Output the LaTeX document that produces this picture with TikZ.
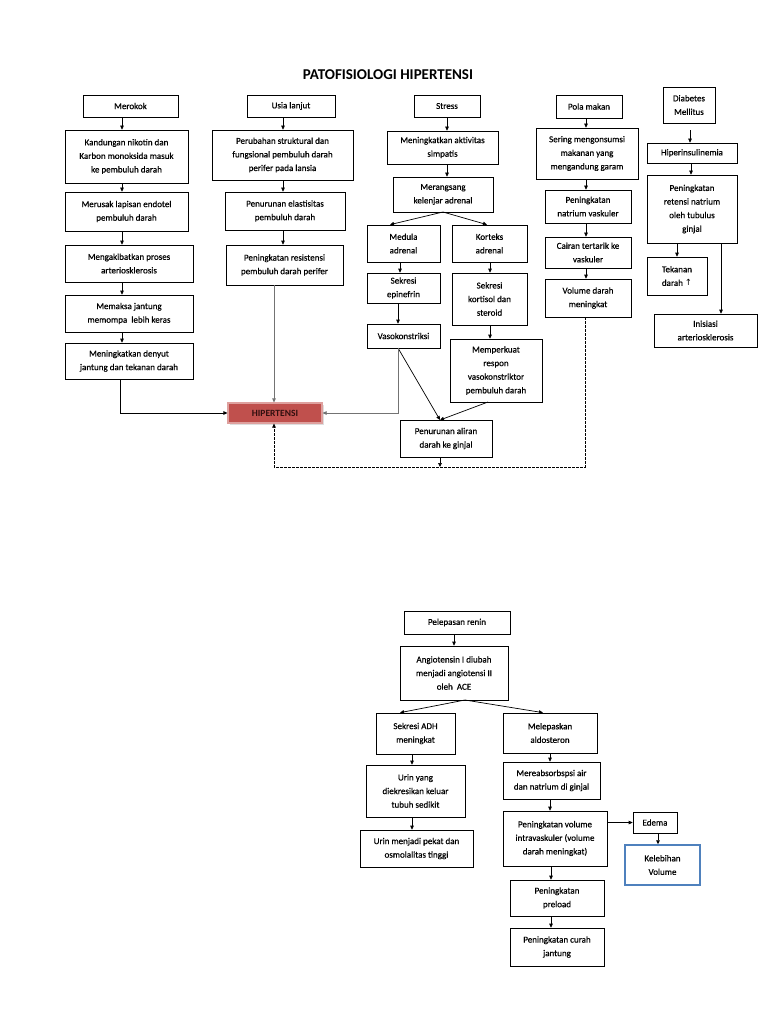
\documentclass[tikz,border=0pt]{standalone}
\usepackage{fontspec}
\setmainfont{Carlito}
\newfontfamily\bodyfont{Carlito}[FakeBold=0.5]
\newfontfamily\symfont{DejaVu Sans}
\usetikzlibrary{arrows.meta,shadows}
\newcommand\mybox[6]{\node[box,minimum width={#4pt-#2pt},minimum height={#5pt-#3pt}] (#1) at ({(#2+#4)/2},{(#3+#5)/2}) {#6};}
\begin{document}
\begin{tikzpicture}[x=1pt,y=-1pt,
  box/.style={draw=black,line width=0.7pt,fill=white,align=center,inner sep=1pt,
    font=\bodyfont\fontsize{9}{13.6}\selectfont},
  arr/.style={-{Triangle[length=4pt,width=3.6pt]},line width=0.7pt},
  arrg/.style={arr,draw=black!55},
  dsh/.style={arr,dash pattern=on 2.2pt off 1.8pt,line width=0.6pt},
  hip/.style={fill={rgb,255:red,192;green,80;blue,77},draw={rgb,255:red,222;green,160;blue,158},
    line width=1.2pt,drop shadow={shadow xshift=1.5pt,shadow yshift=-1.5pt,fill=black!25},
    text={rgb,255:red,50;green,15;blue,15},font=\bfseries\fontsize{9.5}{11}\selectfont},
  bluebox/.style={box,draw={rgb,255:red,79;green,129;blue,189},line width=1.5pt}
]
\useasboundingbox[fill=white] (0,0) rectangle (768,1024);

\node[font=\bfseries\fontsize{15}{18}\selectfont] (title) at (388,75) {PATOFISIOLOGI HIPERTENSI};

% column 1
\mybox{merokok}{83}{95}{178}{117}{Merokok}
\mybox{kandungan}{65}{130}{188}{183}{Kandungan nikotin dan\\Karbon monoksida masuk\\ke pembuluh darah}
\mybox{merusak}{65}{192}{188}{231}{Merusak lapisan endotel\\pembuluh darah}
\mybox{mengakibatkan}{65}{245}{193}{282}{Mengakibatkan proses\\arteriosklerosis}
\mybox{memaksa}{65}{295}{193}{332}{Memaksa jantung\\memompa\ \ lebih keras}
\mybox{meningkatkan}{65}{343}{193}{379}{Meningkatkan denyut\\jantung dan tekanan darah}

% column 2
\mybox{usia}{247}{95}{335}{117}{Usia lanjut}
\mybox{perubahan}{212}{130}{353}{180}{Perubahan struktural dan\\fungsional pembuluh darah\\perifer pada lansia}
\mybox{penurunanE}{225}{192}{345}{230}{Penurunan elastisitas\\pembuluh darah}
\mybox{peningkatanR}{226}{245}{343}{285}{Peningkatan resistensi\\pembuluh darah perifer}

\node[hip,minimum width=94pt,minimum height=20pt] (hipertensi) at (275,413) {HIPERTENSI};

% column 3
\mybox{stress}{414}{95}{480}{117}{Stress}
\mybox{simpatis}{387}{131}{498}{164}{Meningkatkan aktivitas\\simpatis}
\mybox{merangsang}{393}{177}{493}{212}{Merangsang\\kelenjar adrenal}
\mybox{medula}{367}{225}{440}{262}{Medula\\adrenal}
\mybox{korteks}{452}{225}{527}{262}{Korteks\\adrenal}
\mybox{epinefrin}{367}{273}{440}{303}{Sekresi\\epinefrin}
\mybox{kortisol}{452}{273}{527}{325}{Sekresi\\kortisol dan\\steroid}
\mybox{vaso}{367}{324}{440}{348}{Vasokonstriksi}
\mybox{memperkuat}{450}{339}{542}{402}{Memperkuat\\respon\\vasokonstriktor\\pembuluh darah}
\mybox{penurunanA}{400}{420}{492}{457}{Penurunan aliran\\darah ke ginjal}

% column 4
\mybox{pola}{556}{95}{622}{118}{Pola makan}
\mybox{sering}{536}{128}{638}{179}{Sering mengonsumsi\\makanan yang\\mengandung garam}
\mybox{natrium}{545}{190}{631}{223}{Peningkatan\\natrium vaskuler}
\mybox{cairan}{545}{237}{631}{268}{Cairan tertarik ke\\vaskuler}
\mybox{volume}{545}{279}{631}{317}{Volume darah\\meningkat}

% column 5
\mybox{diabetes}{663}{87}{715}{123}{Diabetes\\Mellitus}
\mybox{hiper}{647}{143}{737}{163}{Hiperinsulinemia}
\mybox{retensi}{647}{175}{737}{243}{Peningkatan\\retensi natrium\\oleh tubulus\\ginjal}
\mybox{tekanan}{647}{257}{707}{295}{Tekanan\\darah {\symfont\fontsize{8.5}{9}\selectfont ↑}}
\mybox{inisiasi}{654}{314}{757}{347}{Inisiasi\\arteriosklerosis}

% bottom diagram
\mybox{renin}{404}{611}{510}{634}{Pelepasan renin}
\mybox{angio}{400}{646}{508}{700}{Angiotensin I diubah\\menjadi angiotensi II\\oleh\ \ ACE}
\mybox{adh}{376}{713}{455}{754}{Sekresi ADH\\meningkat}
\mybox{aldo}{503}{713}{597}{753}{Melepaskan\\aldosteron}
\mybox{urin}{366}{765}{465}{817}{Urin yang\\diekresikan keluar\\tubuh sedikit}
\mybox{pekat}{360}{830}{473}{867}{Urin menjadi pekat dan\\osmolalitas tinggi}
\mybox{reabs}{503}{762}{600}{799}{Mereabsorbspsi air\\dan natrium di ginjal}
\mybox{volint}{503}{811}{607}{866}{Peningkatan volume\\intravaskuler (volume\\darah meningkat)}
\mybox{edema}{633}{812}{677}{833}{Edema}
\node[bluebox,minimum width=75pt,minimum height=40pt] (kelebihan) at (662.5,865) {Kelebihan\\Volume};
\mybox{preload}{510}{880}{604}{916}{Peningkatan\\preload}
\mybox{curah}{510}{928}{604}{966}{Peningkatan curah\\jantung}

% helper coordinates for connector columns
\coordinate (c1) at (122,0);
\coordinate (c1b) at (120,0);
\coordinate (c2) at (283,0);
\coordinate (c2h) at (274,0);
\coordinate (c3) at (447,0);
\coordinate (c3m) at (400,0);
\coordinate (c3k) at (490,0);
\coordinate (c3v) at (398,0);
\coordinate (c4) at (586,0);
\coordinate (c5) at (691,0);
\coordinate (c5t) at (677,0);
\coordinate (c5i) at (721,0);
\coordinate (dR) at (585,467);
\coordinate (dL) at (274,467);
\coordinate (pA) at (440,467);
\coordinate (b1) at (412,0);
\coordinate (b2) at (550,0);
\coordinate (b3) at (658,0);
\coordinate (vn) at (398,348);
\coordinate (pt) at (440,420);
\coordinate (mb) at (488,402);
\coordinate (mt) at (443,212);
\coordinate (at) at (465,700);

% column 1 connectors
\draw[arr] (merokok.south -| c1) -- (kandungan.north -| c1);
\draw[arr] (kandungan.south -| c1) -- (merusak.north -| c1);
\draw[arr] (merusak.south -| c1) -- (mengakibatkan.north -| c1);
\draw[arr] (mengakibatkan.south -| c1) -- (memaksa.north -| c1);
\draw[arr] (memaksa.south -| c1) -- (meningkatkan.north -| c1);
\draw[arr] (meningkatkan.south -| c1b) |- (hipertensi.west);

% column 2 connectors
\draw[arr] (usia.south -| c2) -- (perubahan.north -| c2);
\draw[arr] (perubahan.south -| c2) -- (penurunanE.north -| c2);
\draw[arr] (penurunanE.south -| c2) -- (peningkatanR.north -| c2);
\draw[arrg] (peningkatanR.south -| c2h) -- (hipertensi.north -| c2h);

% column 3 connectors
\draw[arr] (stress.south -| c3) -- (simpatis.north -| c3);
\draw[arr] (simpatis.south -| c3) -- (merangsang.north -| c3);
\draw[arr] (mt) -- (medula.north -| 390,0);
\draw[arr] (mt) -- (korteks.north -| 487,0);
\draw[arr] (medula.south -| c3m) -- (epinefrin.north -| c3m);
\draw[arr] (korteks.south -| c3k) -- (kortisol.north -| c3k);
\draw[arr] (epinefrin.south -| c3v) -- (vaso.north -| c3v);
\draw[arr] (kortisol.south -| c3k) -- (memperkuat.north -| c3k);
\draw[arr] (vn) -- (pt);
\draw[arr] (mb) -- (pt);
\draw[arrg] (vaso.south -| c3v) |- (hipertensi.east);
\draw[arr] (penurunanA.south -| pA) -- (pA);

% column 4 connectors
\draw[arr] (pola.south -| c4) -- (sering.north -| c4);
\draw[arr] (sering.south -| c4) -- (natrium.north -| c4);
\draw[arr] (natrium.south -| c4) -- (cairan.north -| c4);
\draw[arr] (cairan.south -| c4) -- (volume.north -| c4);
\draw[dsh] (volume.south -| dR) -- (dR) -- (dL) -- (hipertensi.south -| dL);

% column 5 connectors
\draw[arr] (diabetes.south -| 690,0) ++(0,7) -- (hiper.north -| 690,0);
\draw[arr] (hiper.south -| c5) -- (retensi.north -| c5);
\draw[arr] (retensi.south -| c5t) -- (tekanan.north -| c5t);
\draw[arr] (retensi.south -| c5i) -- (inisiasi.north -| c5i);

% bottom connectors
\draw[arr] (renin.south -| 454,0) -- (angio.north -| 454,0);
\draw[arr] (at) -- (adh.north -| 400,0);
\draw[arr] (at) -- (aldo.north -| 543,0);
\draw[arr] (adh.south -| b1) -- (urin.north -| b1);
\draw[arr] (urin.south -| b1) -- (pekat.north -| b1);
\draw[arr] (aldo.south -| b2) -- (reabs.north -| b2);
\draw[arr] (reabs.south -| b2) -- (volint.north -| b2);
\draw[arr] (volint.east |- edema.west) -- (edema.west);
\draw[arr] (edema.south -| b3) -- (kelebihan.north -| b3);
\draw[arr] (volint.south -| 551,0) -- (preload.north -| 551,0);
\draw[arr] (preload.south -| 551,0) -- (curah.north -| 551,0);
\end{tikzpicture}
\end{document}
